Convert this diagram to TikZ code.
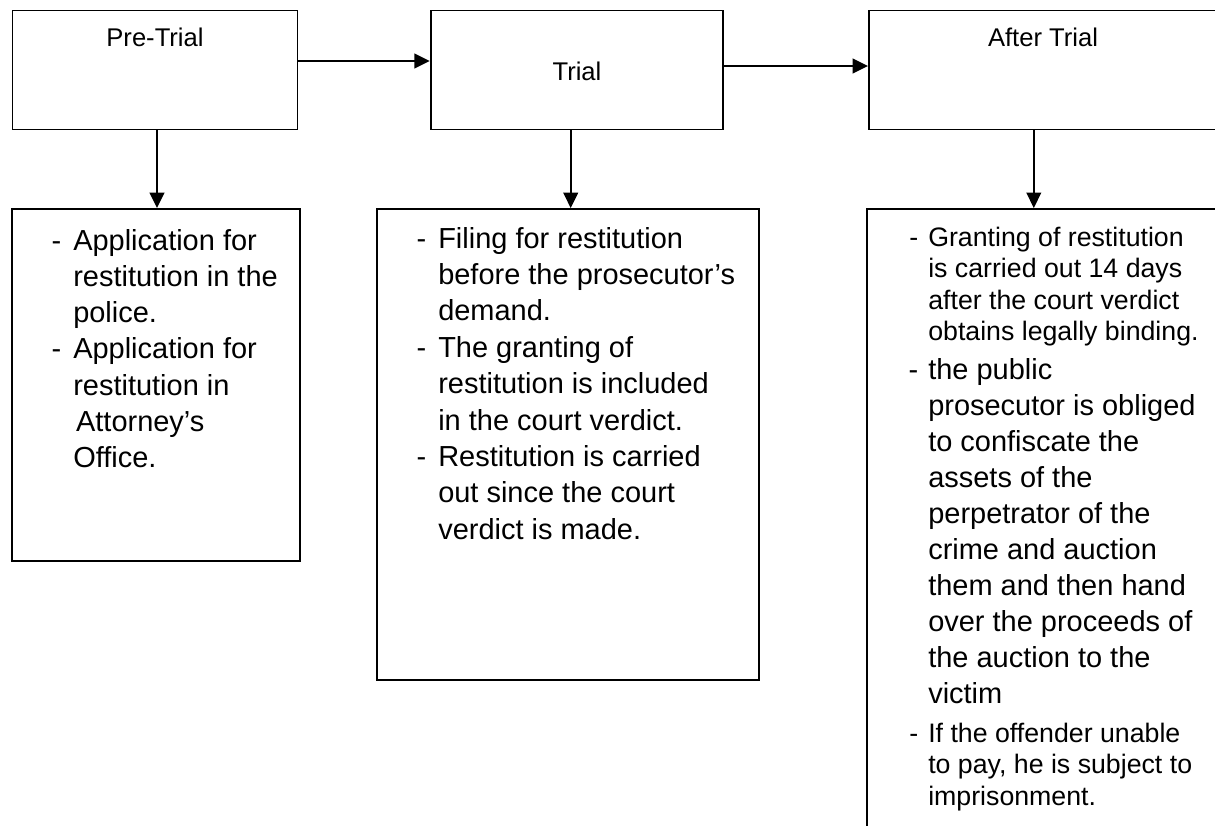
\documentclass[tikz,border=0pt]{standalone}
\usepackage{fontspec}
\setmainfont{Liberation Sans}
\usetikzlibrary{arrows.meta}

\begin{document}
\begin{tikzpicture}[
    x=0.025cm, y=-0.025cm,
    stage/.style={rectangle, draw, line width=1.3pt, minimum height=2.975cm, inner sep=0pt},
    detail/.style={rectangle, draw, line width=1.3pt, inner sep=0pt},
    title/.style={anchor=base, inner sep=0pt, font=\fontsize{18.2pt}{22pt}\selectfont},
    note/.style={anchor=base west, inner sep=0pt, font=\fontsize{20.6pt}{25.8pt}\selectfont},
    smallnote/.style={note, font=\fontsize{19pt}{22.4pt}\selectfont},
    arrow/.style={-{Triangle[length=11pt, width=10.5pt]}, line width=1.3pt}
]

\useasboundingbox (0,0) rectangle (1215,825);
\clip (0,0) rectangle (1215,825);

% Stages
\node[stage, minimum width=7.125cm] (pre)   at (155,70)   {};
\node[stage, minimum width=7.3cm]   (trial) at (576.7,70) {};
\node[stage, minimum width=8.7cm]   (after) at (1043,70)  {};

\node[title] (pretitle)   at (155,46)  {Pre-Trial};
\node[title] (trialtitle) at (577,80)  {Trial};
\node[title] (aftertitle) at (1043,46) {After Trial};

% Details
\node[detail, minimum width=7.2cm, minimum height=8.8cm]      (prebox)   at (156,385)      {};
\node[detail, minimum width=9.55cm, minimum height=11.775cm]  (trialbox) at (568,444.5)    {};
\node[detail, minimum width=9.325cm, minimum height=16.275cm] (afterbox) at (1053.5,534.5) {};

\node[note] (pretext) at (73,250) {\parbox[t]{7cm}{%
    \leavevmode\llap{-\hspace{0.3cm}}Application for\\
    restitution in the\\
    police.\\
    \llap{-\hspace{0.3cm}}Application for\\
    restitution in\\
    \hspace*{2pt}Attorney’s\\
    Office.}};

\node[note, font=\fontsize{20.6pt}{25.9pt}\selectfont] (trialtext) at (438,248) {\parbox[t]{9cm}{%
    \leavevmode\llap{-\hspace{0.3cm}}Filing for restitution\\
    before the prosecutor’s\\
    demand.\\
    \llap{-\hspace{0.3cm}}The granting of\\
    restitution is included\\
    in the court verdict.\\
    \llap{-\hspace{0.3cm}}Restitution is carried\\
    out since the court\\
    verdict is made.}};

\node[smallnote] (aftertexta) at (928,246) {\parbox[t]{8cm}{%
    \leavevmode\llap{-\hspace{0.25cm}}Granting of restitution\\
    is carried out 14 days\\
    after the court verdict\\
    obtains legally binding.}};
\node[note, font=\fontsize{20.6pt}{25.6pt}\selectfont] (aftertextb) at (928,379) {\parbox[t]{8cm}{%
    \leavevmode\llap{-\hspace{0.25cm}}the public\\
    prosecutor is obliged\\
    to confiscate the\\
    assets of the\\
    perpetrator of the\\
    crime and auction\\
    them and then hand\\
    over the proceeds of\\
    the auction to the\\
    victim}};
\node[smallnote] (aftertextc) at (928,742) {\parbox[t]{8cm}{%
    \leavevmode\llap{-\hspace{0.25cm}}If the offender unable\\
    to pay, he is subject to\\
    imprisonment.}};

\draw[arrow] ([yshift=0.225cm]pre.east) -- ([yshift=0.225cm]trial.west);
\draw[arrow] ([yshift=0.1cm]trial.east) -- ([yshift=0.1cm]after.west);

\draw[arrow] ([xshift=0.05cm]pre.south) -- ([xshift=0.05cm]pre.south |- prebox.north);
\draw[arrow] ([xshift=-0.15cm]trial.south) -- ([xshift=-0.15cm]trial.south |- trialbox.north);
\draw[arrow] ([xshift=-0.23cm]after.south) -- ([xshift=-0.23cm]after.south |- afterbox.north);

\end{tikzpicture}
\end{document}
